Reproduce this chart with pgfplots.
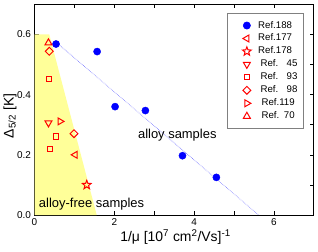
\documentclass[border=0pt]{standalone}
\usepackage{pgfplots}
\pgfplotsset{compat=1.18}
\usepackage{fontspec}
\setmainfont{Liberation Sans}
\definecolor{fillyellow}{HTML}{FFFF99}
\definecolor{ptblue}{HTML}{0000FF}
\definecolor{lineblue}{HTML}{6F6FFF}
\pgfdeclareplotmark{ostar}{%
  \pgfpathmoveto{\pgfpointpolar{90}{\pgfplotmarksize}}%
  \pgfpathlineto{\pgfpointpolar{126}{0.42\pgfplotmarksize}}%
  \pgfpathlineto{\pgfpointpolar{162}{\pgfplotmarksize}}%
  \pgfpathlineto{\pgfpointpolar{198}{0.42\pgfplotmarksize}}%
  \pgfpathlineto{\pgfpointpolar{234}{\pgfplotmarksize}}%
  \pgfpathlineto{\pgfpointpolar{270}{0.42\pgfplotmarksize}}%
  \pgfpathlineto{\pgfpointpolar{306}{\pgfplotmarksize}}%
  \pgfpathlineto{\pgfpointpolar{342}{0.42\pgfplotmarksize}}%
  \pgfpathlineto{\pgfpointpolar{18}{\pgfplotmarksize}}%
  \pgfpathlineto{\pgfpointpolar{54}{0.42\pgfplotmarksize}}%
  \pgfpathclose
  \pgfusepathqstroke}
\begin{document}
\begin{tikzpicture}
\begin{axis}[
  scale only axis,
  width=279.2bp, height=210.7bp,
  xmin=0, xmax=7, ymin=0, ymax=0.7,
  xtick={0,1,...,7},
  xticklabels={0,,2,,4,,6,},
  ytick={0,0.1,...,0.7},
  yticklabels={0.0,,0.2,,0.4,,0.6,},
  tick align=inside,
  tick pos=both,
  major tick length=4bp,
  tick style={black, line width=0.6pt},
  /pgf/number format/assume math mode=true,
  tick label style={font=\fontsize{10}{12}\selectfont},
  label style={font=\fontsize{14}{16}\selectfont},
  xlabel={1/μ [10\textsuperscript{7} cm\textsuperscript{2}/Vs]\textsuperscript{-1}},
  ylabel={Δ\textsubscript{5/2} [K]},
  xlabel style={at={(axis description cs:0.505,-0.104)}, anchor=center},
  ylabel style={at={(axis description cs:-0.088,0.47)}, anchor=center},
  axis line style={line width=0.7pt},
  legend image code/.code={\path (-14.4bp,0bp) (10bp,0bp); \draw[#1] plot coordinates {(0bp,0bp)};},
  legend style={at={(axis cs:6.74,0.672)}, anchor=north east, draw=gray, line width=0.6pt,
    font=\fontsize{9.7}{11}\selectfont, row sep=1.96bp, inner xsep=4.6bp, inner ysep=7bp,
    nodes={inner sep=1bp, text height=7bp, text depth=2bp}},
  legend cell align=left,
  clip=true,
]
\addplot[draw=none, fill=fillyellow, forget plot] coordinates {(0,0) (0,0.6) (0.37,0.6) (1.56,0) (0,0)};
\addplot[densely dotted, lineblue, line width=0.6pt, forget plot] coordinates {(0.55,0.573) (5.62,0)};
\node[font=\fontsize{13}{15}\selectfont] at (axis cs:3.58,0.266) {alloy samples};
\node[font=\fontsize{13}{15}\selectfont, inner sep=0pt] at (axis cs:1.43,0.037) {alloy-free samples};
\addplot[only marks, mark=*, mark size=3.6bp, ptblue, mark options={fill=ptblue}] coordinates {
  (0.54,0.568) (1.57,0.543) (2.02,0.360) (2.78,0.347) (3.71,0.197) (4.56,0.125)};
\addlegendentry{Ref.188}
\addplot[only marks, mark=triangle, mark size=4bp, red, mark options={rotate=90, line width=1bp}] coordinates {(1.02,0.200)};
\addlegendentry{Ref.177}
\addplot[only marks, mark=ostar, mark size=4.6bp, red, mark options={line width=1bp}] coordinates {(1.31,0.100)};
\addlegendentry{Ref.178}
\addplot[only marks, mark=triangle, mark size=4bp, red, mark options={rotate=180, line width=1bp}] coordinates {(0.35,0.306)};
\addlegendentry{\hspace*{2.4bp}Ref.\hspace{8.4bp}45}
\addplot[only marks, mark=square, mark size=2.6bp, red, mark options={line width=1bp}] coordinates {(0.36,0.452) (0.54,0.261) (0.39,0.220)};
\addlegendentry{\hspace*{2.4bp}Ref.\hspace{8.4bp}93}
\addplot[only marks, mark=square, mark size=2.8bp, red, mark options={rotate=45, line width=1bp}] coordinates {(0.37,0.544) (0.99,0.270)};
\addlegendentry{\hspace*{2.4bp}Ref.\hspace{8.4bp}98}
\addplot[only marks, mark=triangle, mark size=4bp, red, mark options={rotate=-90, line width=1bp}] coordinates {(0.64,0.311)};
\addlegendentry{\hspace*{3.4bp}Ref.119}
\addplot[only marks, mark=triangle, mark size=4bp, red, mark options={line width=1bp}] coordinates {(0.35,0.572)};
\addlegendentry{\hspace*{3.4bp}Ref.\hspace{4.7bp}70}
\end{axis}
\pgfresetboundingbox
\path[use as bounding box] ([shift={(-34.5bp,-36bp)}]current axis.south west) rectangle ([shift={(4.3bp,4.3bp)}]current axis.north east);
\end{tikzpicture}
\end{document}
